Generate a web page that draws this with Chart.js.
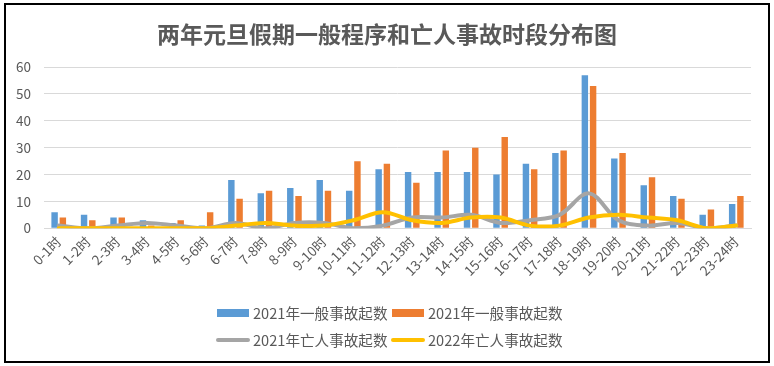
<!DOCTYPE html>
<html><head><meta charset="utf-8">
<script src="https://cdn.jsdelivr.net/npm/chart.js@4.4.1/dist/chart.umd.min.js"></script>
<style>
html,body{margin:0;padding:0;background:#fff;width:774px;height:366px;overflow:hidden;font-family:'Noto Sans CJK SC',sans-serif}
#frame{position:absolute;left:4px;top:3px;width:766px;height:360px;box-sizing:border-box;border:2px solid #000;background:#fff}
#wrap{position:absolute;left:0;top:0;width:762px;height:356px}
.lg{position:absolute;font-size:14.6px;color:#595959;line-height:20px;white-space:nowrap}
.sw{position:absolute}
</style></head><body>
<div id="frame"><div id="wrap"><canvas id="c"></canvas></div></div>
<div id="legend"></div>
<script>
const titleText = '两年元旦假期一般程序和亡人事故时段分布图';
const categories = ['0-1时','1-2时','2-3时','3-4时','4-5时','5-6时','6-7时','7-8时','8-9时','9-10时','10-11时','11-12时','12-13时','13-14时','14-15时','15-16时','16-17时','17-18时','18-19时','19-20时','20-21时','21-22时','22-23时','23-24时'];
const seriesNames = ['2021年一般事故起数','2021年一般事故起数','2021年亡人事故起数','2022年亡人事故起数'];
const general2021 = [6,5,4,3,2,1,18,13,15,18,14,22,21,21,21,20,24,28,57,26,16,12,5,9];
const general2022 = [4,3,4,1,3,6,11,14,12,14,25,24,17,29,30,34,22,29,53,28,19,11,7,12];
const death2021 = [1,0,1,2,1,0,2,0,2,2,0,1,4,4,5,2,3,5,13,3,1,2,0,1];
const death2022 = [0,0,0,0,0,0,1,2,1,1,3,6,3,2,4,4,1,1,4,5,4,3,0,1];
const yTicks = [0,10,20,30,40,50,60];

const colors = ['#5b9bd5','#ed7d31','#a5a5a5','#ffc000'];
const textColor = '#595959';
const FONT = "'Noto Sans CJK SC', sans-serif";

const barOpts = {categoryPercentage:0.56, barPercentage:0.78, borderWidth:0, order:3};
const lineOpts = {type:'line', borderWidth:4, pointRadius:0, pointHoverRadius:0, tension:0.35, fill:false, borderJoinStyle:'round', borderCapStyle:'round'};

const datasets = [
  Object.assign({type:'bar', label:seriesNames[0], data:general2021, backgroundColor:colors[0]}, barOpts),
  Object.assign({type:'bar', label:seriesNames[1], data:general2022, backgroundColor:colors[1]}, barOpts),
  Object.assign({label:seriesNames[2], data:death2021, borderColor:colors[2], backgroundColor:colors[2], order:2}, lineOpts),
  Object.assign({label:seriesNames[3], data:death2022, borderColor:colors[3], backgroundColor:colors[3], order:1}, lineOpts)
];

new Chart(document.getElementById('c'), {
  type:'bar',
  data:{labels:categories, datasets:datasets},
  options:{
    responsive:true, maintainAspectRatio:false, animation:false,
    layout:{padding:{left:0,right:0,top:0,bottom:72.7}},
    plugins:{
      legend:{display:false},
      tooltip:{enabled:false},
      title:{display:true, text:titleText, color:textColor, font:{family:FONT, size:23, weight:'bold'}, padding:{top:15,bottom:19.5}}
    },
    scales:{
      x:{
        grid:{display:false, drawTicks:false},
        border:{display:true, color:'#d9d9d9', width:1},
        ticks:{autoSkip:false, maxRotation:45, minRotation:45, padding:5, color:textColor, font:{family:FONT, size:13.5}},
        afterFit:s=>{s.height=60;}
      },
      y:{
        min:0, max:60,
        afterBuildTicks:s=>{s.ticks = yTicks.map(v=>({value:v}));},
        grid:{color:'#d9d9d9', lineWidth:1, drawTicks:false},
        border:{display:false},
        ticks:{padding:13, color:textColor, font:{family:FONT, size:13.5}},
        afterFit:s=>{s.width=38;}
      },
      yRight:{
        position:'right', min:0, max:60,
        grid:{display:false, drawTicks:false},
        border:{display:false},
        ticks:{display:false},
        afterFit:s=>{s.width=17;}
      }
    }
  }
});

// HTML legend (two rows, two columns) built from the datasets
const lg = document.getElementById('legend');
const pos = [[217,313],[392,313],[216,340],[391,340]];
datasets.forEach((d,i)=>{
  const [x,y] = pos[i];
  const sw = document.createElement('div');
  sw.className='sw';
  if (d.type==='bar'){
    sw.style.cssText = `left:${x}px;top:${y-4}px;width:32px;height:8px;background:${d.backgroundColor}`;
  } else {
    sw.style.cssText = `left:${x}px;top:${y-2}px;width:34px;height:4px;border-radius:2px;background:${d.borderColor}`;
  }
  lg.appendChild(sw);
  const t = document.createElement('div');
  t.className='lg';
  t.textContent = d.label;
  t.style.left = (i%2===0?253:428)+'px';
  t.style.top = (y-10)+'px';
  lg.appendChild(t);
});
</script>
</body></html>
